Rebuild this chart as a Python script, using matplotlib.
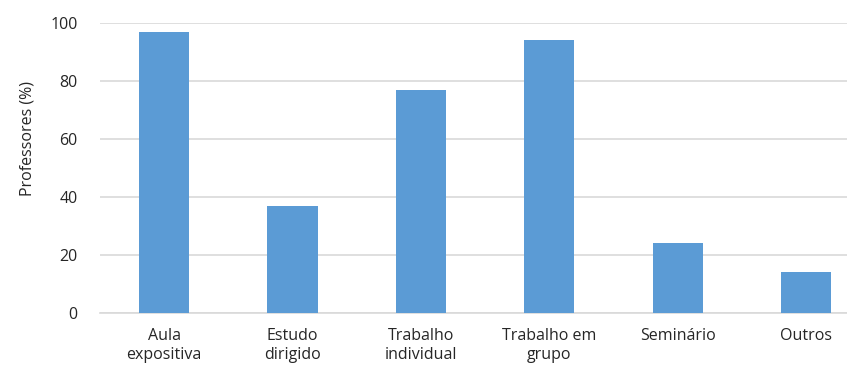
import matplotlib.pyplot as plt
import numpy as np

categorias = ['Aula\nexpositiva', 'Estudo\ndirigido', 'Trabalho\nindividual',
              'Trabalho em\ngrupo', 'Seminário', 'Outros']
valores = [97, 37, 77, 94, 24, 14]
yticks = [0, 20, 40, 60, 80, 100]

plt.rcParams['font.family'] = ['Open Sans', 'DejaVu Sans']

fig = plt.figure(figsize=(8.47, 3.68), dpi=100)
ax = fig.add_axes([0.118, 0.1495, 0.882, 0.788])

x = np.arange(len(categorias))
ax.bar(x, valores, width=0.39, color='#5b9bd5', zorder=3)

ax.set_xlim(-0.5, 5.32)
ax.set_ylim(0, 100)
ax.set_yticks(yticks)
ax.set_xticks(x)
ax.set_xticklabels(categorias, fontsize=11.5, color='#262626', linespacing=1.25)
ax.tick_params(axis='y', labelsize=11.5, labelcolor='#262626', length=0, pad=16)
ax.tick_params(axis='x', length=0, pad=11)
ax.set_ylabel('Professores (%)', fontsize=11.5, color='#262626')
ax.yaxis.set_label_coords(-0.086, 0.6)

ax.grid(axis='y', color='#d9d9d9', linewidth=1.2, zorder=0)
for s in ['top', 'right', 'left']:
    ax.spines[s].set_visible(False)
ax.spines['bottom'].set_color('#d9d9d9')
ax.spines['bottom'].set_linewidth(1.2)

fig.savefig('out.png', dpi=100)
